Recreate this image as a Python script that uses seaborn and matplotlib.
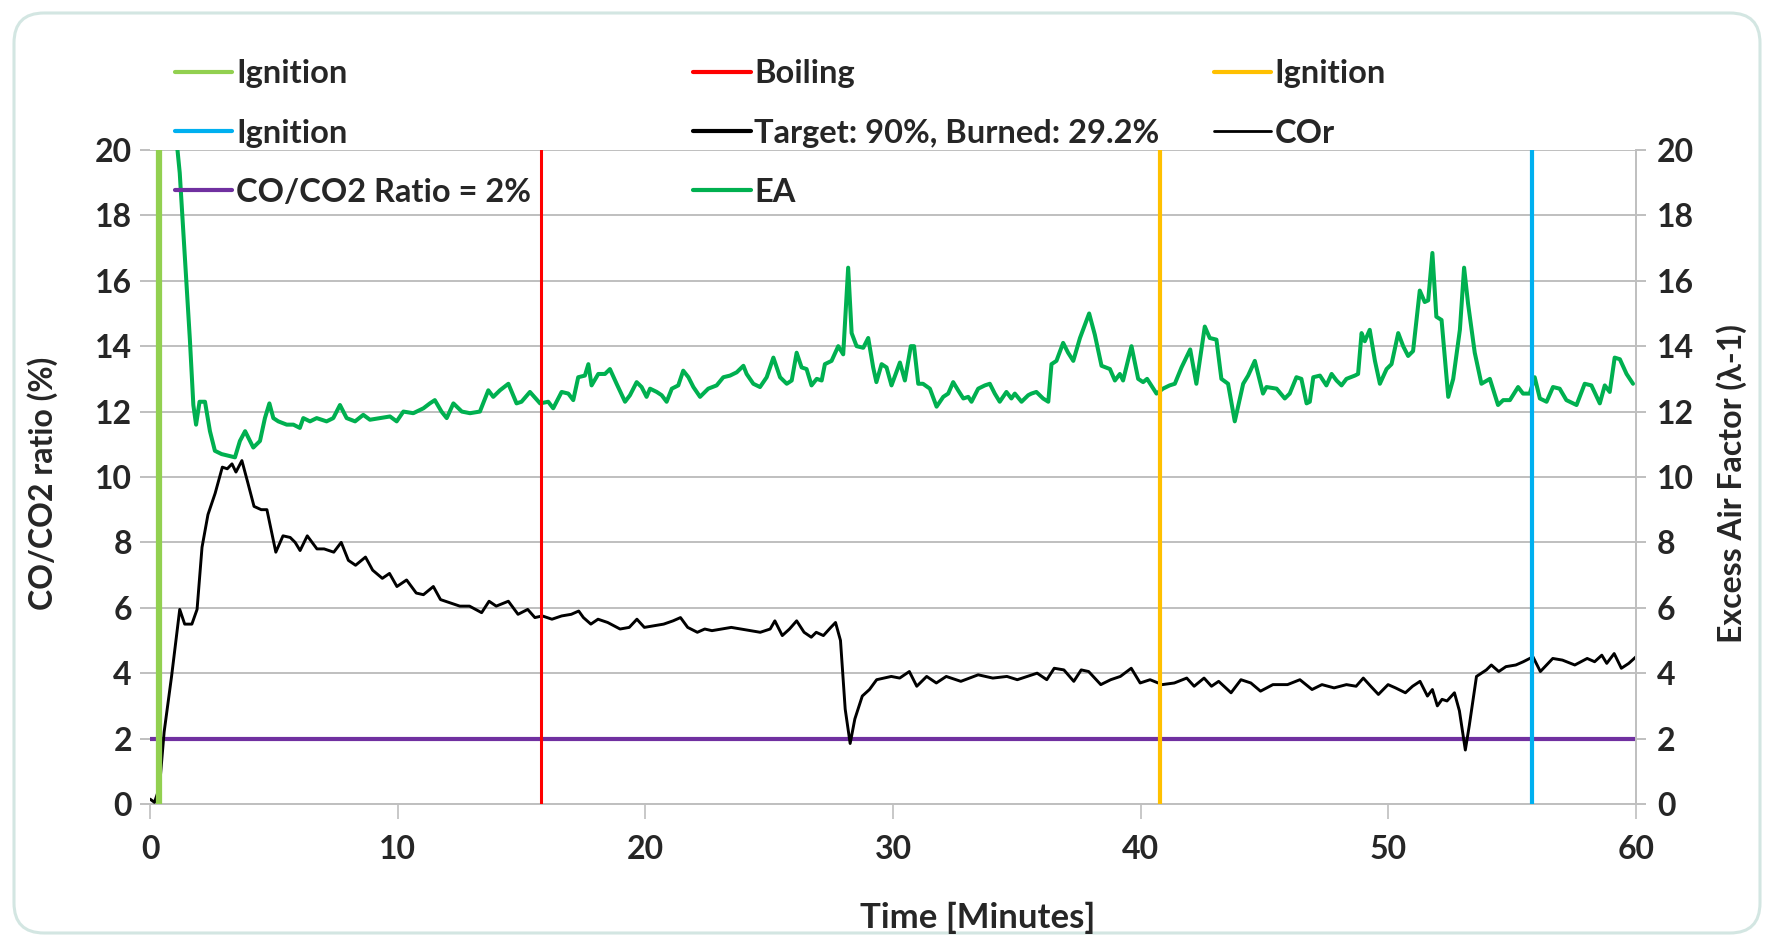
import numpy as np
import pandas as pd
import matplotlib
matplotlib.use("Agg")
import matplotlib.pyplot as plt
import seaborn as sns
from matplotlib.lines import Line2D
from matplotlib.patches import FancyBboxPatch

# --- data --------------------------------------------------------------------
# CO/CO2 ratio (%) vs time (minutes)
COR_TIME = [0.0, 0.18, 0.38, 0.57, 0.87, 1.2, 1.4, 1.69, 1.9, 2.1, 2.34, 2.63, 2.92, 3.12, 3.31, 3.47,
            3.71, 3.94, 4.2, 4.49, 4.72, 5.08, 5.37, 5.66, 5.86, 6.06, 6.35, 6.74, 7.03, 7.42, 7.72,
            8.01, 8.3, 8.7, 8.99, 9.38, 9.67, 9.97, 10.36, 10.75, 11.04, 11.44, 11.73, 12.12, 12.51,
            12.9, 13.39, 13.69, 13.98, 14.47, 14.86, 15.25, 15.54, 15.84, 16.23, 16.62, 17.01, 17.31,
            17.5, 17.8, 18.09, 18.48, 18.98, 19.35, 19.66, 19.96, 20.35, 20.74, 21.12, 21.42, 21.71,
            22.1, 22.4, 22.69, 23.08, 23.47, 23.86, 24.25, 24.64, 25.04, 25.23, 25.53, 25.82, 26.11,
            26.41, 26.7, 26.9, 27.19, 27.49, 27.68, 27.88, 28.07, 28.27, 28.46, 28.76, 29.05, 29.34,
            29.64, 29.93, 30.27, 30.66, 30.96, 31.36, 31.75, 32.15, 32.74, 33.44, 34.03, 34.6, 35.02,
            35.82, 36.21, 36.51, 36.9, 37.3, 37.6, 37.9, 38.39, 38.79, 39.18, 39.62, 39.98, 40.38,
            40.87, 41.36, 41.86, 42.16, 42.56, 42.86, 43.15, 43.65, 44.05, 44.45, 44.84, 45.34, 45.93,
            46.43, 46.92, 47.32, 47.81, 48.31, 48.7, 48.99, 49.29, 49.6, 49.99, 50.29, 50.69, 50.98,
            51.28, 51.58, 51.78, 51.98, 52.17, 52.37, 52.67, 52.87, 53.11, 53.27, 53.56, 53.96, 54.16,
            54.46, 54.75, 55.15, 55.45, 55.84, 56.14, 56.64, 57.03, 57.53, 58.03, 58.33, 58.62, 58.82,
            59.12, 59.41, 59.71, 60.0]
COR_VALUE = [0.15, 0.05, 0.5, 2.2, 3.9, 5.95, 5.5, 5.5, 5.95, 7.85, 8.85, 9.5, 10.3, 10.25, 10.4, 10.15,
             10.5, 9.85, 9.1, 9.0, 9.0, 7.7, 8.2, 8.15, 8.0, 7.75, 8.2, 7.8, 7.8, 7.7, 8.0,
             7.45, 7.3, 7.55, 7.15, 6.9, 7.05, 6.65, 6.85, 6.45, 6.4, 6.65, 6.25, 6.15, 6.05,
             6.05, 5.85, 6.2, 6.05, 6.2, 5.8, 5.95, 5.7, 5.75, 5.65, 5.75, 5.8, 5.9,
             5.7, 5.5, 5.65, 5.55, 5.35, 5.4, 5.65, 5.4, 5.45, 5.5, 5.6, 5.7, 5.4,
             5.25, 5.35, 5.3, 5.35, 5.4, 5.35, 5.3, 5.25, 5.35, 5.6, 5.15, 5.35, 5.6,
             5.25, 5.1, 5.25, 5.15, 5.4, 5.55, 5.0, 2.9, 1.85, 2.6, 3.3, 3.5, 3.8,
             3.85, 3.9, 3.85, 4.05, 3.6, 3.9, 3.7, 3.9, 3.75, 3.95, 3.85, 3.9, 3.8,
             4.0, 3.8, 4.15, 4.1, 3.75, 4.1, 4.05, 3.65, 3.8, 3.9, 4.15, 3.7, 3.8,
             3.65, 3.7, 3.85, 3.6, 3.85, 3.6, 3.75, 3.4, 3.8, 3.7, 3.45, 3.65, 3.65,
             3.8, 3.5, 3.65, 3.55, 3.65, 3.6, 3.85, 3.6, 3.35, 3.65, 3.55, 3.4, 3.6,
             3.75, 3.3, 3.5, 3.0, 3.2, 3.15, 3.4, 2.85, 1.65, 2.4, 3.9, 4.1, 4.25,
             4.05, 4.2, 4.25, 4.35, 4.5, 4.05, 4.45, 4.4, 4.25, 4.45, 4.35, 4.55, 4.3,
             4.6, 4.15, 4.3, 4.5]

# Excess air factor (lambda-1) vs time (minutes)
EA_TIME = [0.85, 1.2, 1.61, 1.75, 1.86, 2.0, 2.22, 2.42, 2.62, 2.89, 3.16, 3.43, 3.63, 3.84, 4.17, 4.44,
           4.64, 4.82, 4.98, 5.18, 5.52, 5.79, 6.05, 6.19, 6.46, 6.73, 7.13, 7.4, 7.67, 7.94, 8.28,
           8.61, 8.88, 9.28, 9.69, 9.96, 10.23, 10.63, 11.04, 11.3, 11.5, 11.77, 11.98, 12.25, 12.59,
           12.92, 13.32, 13.66, 13.86, 14.13, 14.47, 14.8, 15.0, 15.34, 15.75, 16.08, 16.28, 16.62,
           16.89, 17.09, 17.29, 17.56, 17.7, 17.83, 18.1, 18.37, 18.57, 18.84, 19.18, 19.38, 19.65,
           19.85, 20.05, 20.19, 20.46, 20.66, 20.86, 21.07, 21.33, 21.53, 21.74, 21.94, 22.21, 22.54,
           22.88, 23.15, 23.42, 23.69, 23.96, 24.09, 24.36, 24.63, 24.9, 25.17, 25.44, 25.71, 25.91,
           26.11, 26.31, 26.51, 26.71, 26.92, 27.12, 27.25, 27.52, 27.79, 27.99, 28.19, 28.33, 28.53,
           28.8, 29.0, 29.2, 29.33, 29.54, 29.74, 29.94, 30.28, 30.48, 30.72, 30.85, 31.02, 31.21,
           31.49, 31.76, 32.03, 32.23, 32.43, 32.63, 32.84, 33.04, 33.17, 33.44, 33.71, 33.91, 34.11,
           34.31, 34.58, 34.78, 34.92, 35.19, 35.46, 35.59, 35.79, 36.06, 36.27, 36.4, 36.6, 36.87,
           37.07, 37.28, 37.55, 37.92, 38.15, 38.42, 38.76, 38.96, 39.16, 39.29, 39.63, 39.9, 40.1,
           40.26, 40.64, 40.9, 41.17, 41.38, 41.65, 42.0, 42.25, 42.59, 42.79, 43.06, 43.26, 43.53,
           43.8, 44.14, 44.34, 44.61, 44.94, 45.08, 45.49, 45.82, 46.02, 46.29, 46.49, 46.7, 46.83,
           46.97, 47.24, 47.5, 47.71, 47.91, 48.11, 48.31, 48.65, 48.78, 48.92, 49.05, 49.25, 49.46,
           49.66, 49.93, 50.13, 50.4, 50.6, 50.8, 51.0, 51.14, 51.27, 51.47, 51.61, 51.78, 51.94,
           52.15, 52.42, 52.62, 52.89, 53.06, 53.22, 53.49, 53.76, 54.1, 54.43, 54.64, 54.91, 55.24,
           55.44, 55.71, 55.91, 56.12, 56.39, 56.65, 56.92, 57.19, 57.6, 57.93, 58.2, 58.54, 58.74,
           58.94, 59.14, 59.35, 59.62, 59.88]
EA_VALUE = [22.0, 19.3, 14.2, 12.2, 11.6, 12.3, 12.3, 11.4, 10.8, 10.7, 10.65, 10.6, 11.1, 11.4, 10.9, 11.1,
            11.8, 12.25, 11.8, 11.7, 11.6, 11.6, 11.5, 11.8, 11.7, 11.8, 11.7, 11.8, 12.2, 11.8, 11.7,
            11.9, 11.75, 11.8, 11.85, 11.7, 12.0, 11.95, 12.1, 12.25, 12.35, 12.0, 11.8, 12.25, 12.0,
            11.95, 12.0, 12.65, 12.45, 12.65, 12.85, 12.25, 12.3, 12.6, 12.25, 12.3, 12.1, 12.6,
            12.55, 12.35, 13.05, 13.1, 13.45, 12.8, 13.15, 13.15, 13.3, 12.85, 12.3, 12.5, 12.9,
            12.75, 12.45, 12.7, 12.6, 12.5, 12.3, 12.7, 12.8, 13.25, 13.05, 12.75, 12.45, 12.7,
            12.8, 13.05, 13.1, 13.2, 13.4, 13.15, 12.85, 12.75, 13.05, 13.65, 13.05, 12.85, 12.95,
            13.8, 13.35, 13.3, 12.8, 13.0, 12.95, 13.45, 13.55, 14.0, 13.75, 16.4, 14.4, 14.0,
            13.95, 14.25, 13.35, 12.9, 13.45, 13.35, 12.8, 13.5, 12.95, 14.0, 14.0, 12.85, 12.85,
            12.7, 12.15, 12.45, 12.55, 12.9, 12.65, 12.4, 12.45, 12.3, 12.7, 12.8, 12.85, 12.55,
            12.3, 12.6, 12.4, 12.55, 12.3, 12.5, 12.55, 12.6, 12.4, 12.3, 13.45, 13.55, 14.1,
            13.8, 13.55, 14.25, 15.0, 14.35, 13.4, 13.3, 12.95, 13.15, 12.95, 14.0, 13.0, 12.9,
            13.0, 12.55, 12.7, 12.8, 12.85, 13.35, 13.9, 12.85, 14.6, 14.25, 14.2, 13.0, 12.85,
            11.7, 12.85, 13.1, 13.55, 12.55, 12.75, 12.7, 12.4, 12.55, 13.05, 13.0, 12.25, 12.3,
            13.05, 13.1, 12.8, 13.15, 12.95, 12.8, 13.0, 13.1, 13.15, 14.4, 14.15, 14.5, 13.55,
            12.85, 13.3, 13.45, 14.4, 14.0, 13.7, 13.85, 14.8, 15.7, 15.35, 15.4, 16.85, 14.9,
            14.8, 12.45, 13.0, 14.5, 16.4, 15.3, 13.8, 12.85, 13.0, 12.2, 12.35, 12.35, 12.75,
            12.55, 12.55, 13.05, 12.4, 12.3, 12.75, 12.7, 12.35, 12.2, 12.85, 12.8, 12.25, 12.8,
            12.6, 13.65, 13.6, 13.15, 12.85]

# event markers (minutes), labels and colours
EVENT_TIME = [0.35, 15.8, 40.8, 55.8]
EVENT_LABEL = ["Ignition", "Boiling", "Ignition", "Ignition"]
EVENT_COLOR = ["#92D050", "#FF0000", "#FFC000", "#00B0F0"]
EVENT_WIDTH = [4.5, 2.2, 3.0, 3.0]

LIMIT_VALUE = 2.0
LIMIT_LABEL = "CO/CO2 Ratio = 2%"
TARGET_LABEL = "Target: 90%, Burned: 29.2%"

X_TICKS = [0, 10, 20, 30, 40, 50, 60]
Y_TICKS = [0, 2, 4, 6, 8, 10, 12, 14, 16, 18, 20]

EA_COLOR = "#00B050"
LIMIT_COLOR = "#7030A0"
GRID_COLOR = "#BFBFBF"

# --- styling -----------------------------------------------------------------
sns.set_theme(style="white")
plt.rcParams["font.family"] = ["Lato", "DejaVu Sans"]
plt.rcParams["font.weight"] = "bold"
plt.rcParams["axes.labelweight"] = "bold"

cor_df = pd.DataFrame({"time": COR_TIME, "cor": COR_VALUE})
ea_df = pd.DataFrame({"time": EA_TIME, "ea": EA_VALUE})

fig = plt.figure(figsize=(17.69, 9.39), dpi=100)
ax = fig.add_axes([0.0848, 0.1438, 0.8400, 0.6965])
ax2 = ax.twinx()

# left axis: limit line and COr
ax.axhline(LIMIT_VALUE, color=LIMIT_COLOR, lw=3, zorder=2)
sns.lineplot(data=cor_df, x="time", y="cor", ax=ax, color="black", lw=2.1,
             estimator=None, sort=False, zorder=3)

# right axis: excess air, then the event lines on top
sns.lineplot(data=ea_df, x="time", y="ea", ax=ax2, color=EA_COLOR, lw=2.9,
             estimator=None, sort=False, zorder=3)
for t, c, w in zip(EVENT_TIME, EVENT_COLOR, EVENT_WIDTH):
    ax2.axvline(t, color=c, lw=w, zorder=4)

for a in (ax, ax2):
    a.set_xlim(0, 60)
    a.set_ylim(0, 20)
    a.set_yticks(Y_TICKS)
    for s in a.spines.values():
        s.set_visible(False)

ax.set_xticks(X_TICKS)
ax.yaxis.grid(True, color=GRID_COLOR, lw=1.4)
ax.set_axisbelow(True)
ax.spines["bottom"].set_visible(True)
ax.spines["bottom"].set_color(GRID_COLOR)
ax.spines["bottom"].set_linewidth(1.4)
ax2.spines["right"].set_visible(True)
ax2.spines["right"].set_color(GRID_COLOR)
ax2.spines["right"].set_linewidth(1.4)

ax.tick_params(axis="x", bottom=True, length=11, width=1.2, color=GRID_COLOR,
               pad=11, labelsize=23)
ax.tick_params(axis="y", left=True, length=7, width=1.4, color=GRID_COLOR,
               pad=6, labelsize=23)
ax2.tick_params(axis="y", right=True, length=7, width=1.4, color=GRID_COLOR,
                pad=8, labelsize=23)
for lab in ax.get_xticklabels() + ax.get_yticklabels() + ax2.get_yticklabels():
    lab.set_fontweight("bold")

ax.set_xlabel("Time [Minutes]", fontsize=25, fontweight="bold")
ax.set_ylabel("CO/CO2 ratio (%)", fontsize=23, fontweight="bold")
ax2.set_ylabel("Excess Air Factor (λ-1)", fontsize=23, fontweight="bold")
ax.xaxis.set_label_coords(0.557, -0.15)
ax.yaxis.set_label_coords(-0.062, 0.49)
ax2.yaxis.set_label_coords(1.054, 0.49)

# legend, three columns laid out row by row
def handle(color, lw=3):
    return Line2D([0], [0], color=color, lw=lw)

columns = [
    [(handle(EVENT_COLOR[0]), EVENT_LABEL[0]),
     (handle(EVENT_COLOR[3]), EVENT_LABEL[3]),
     (handle(LIMIT_COLOR), LIMIT_LABEL)],
    [(handle(EVENT_COLOR[1]), EVENT_LABEL[1]),
     (handle("black"), TARGET_LABEL),
     (handle(EA_COLOR), "EA")],
    [(handle(EVENT_COLOR[2]), EVENT_LABEL[2]),
     (handle("black", 2), "COr")],
]
col_x = [0.099, 0.392, 0.686]
for x0, entries in zip(col_x, columns):
    fig.legend([e[0] for e in entries], [e[1] for e in entries],
               loc="upper left", bbox_to_anchor=(x0, 0.937), frameon=False,
               handlelength=1.75, handletextpad=0.12,
               labelspacing=0.93, borderpad=0, borderaxespad=0,
               prop={"weight": "bold", "size": 23.5})

# rounded outer frame
frame = FancyBboxPatch((0.14, 0.06), 17.46, 9.2,
                       boxstyle="round,pad=0,rounding_size=0.3",
                       transform=fig.dpi_scale_trans, fc="none",
                       ec="#D3E6E2", lw=2.2, zorder=-1)
fig.patches.append(frame)

fig.savefig("out.png", dpi=100)
